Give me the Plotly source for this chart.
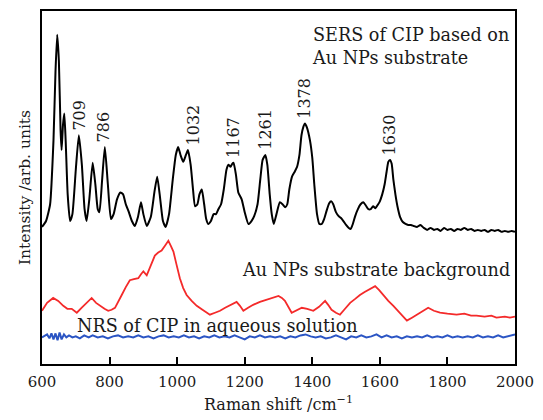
import plotly.graph_objects as go

# Raman shift (cm^-1) and intensity (arb. units) of the three spectra
sers_shift = [600, 612, 624, 634, 640, 645, 650, 655, 658, 662, 666, 670, 676, 683, 690, 700,
              709, 718, 726, 732, 740, 750, 758, 765, 770, 778, 786, 795, 804, 812, 822, 832,
              840, 848, 856, 866, 875, 884, 893, 900, 910, 922, 933, 941, 950, 958, 966, 976,
              987, 996, 1003, 1010, 1018, 1026, 1032, 1040, 1047, 1053, 1060, 1066, 1073, 1080,
              1086, 1092, 1100, 1108, 1115, 1122, 1130, 1138, 1146, 1152, 1158, 1163, 1167, 1174,
              1181, 1191, 1200, 1211, 1220, 1228, 1238, 1246, 1253, 1261, 1267, 1274, 1280, 1286,
              1294, 1304, 1312, 1320, 1326, 1332, 1340, 1348, 1355, 1362, 1368, 1374, 1378, 1384,
              1393, 1400, 1406, 1414, 1421, 1428, 1435, 1442, 1450, 1456, 1462, 1470, 1478, 1485,
              1492, 1500, 1508, 1514, 1520, 1527, 1535, 1543, 1551, 1558, 1566, 1573, 1580, 1587,
              1593, 1600, 1607, 1614, 1620, 1625, 1630, 1635, 1640, 1646, 1652, 1660, 1668, 1676,
              1684, 1692, 1700, 1710, 1720, 1730, 1740, 1750, 1760, 1770, 1780, 1790, 1800, 1810,
              1820, 1830, 1840, 1850, 1860, 1870, 1880, 1890, 1900, 1910, 1920, 1930, 1940, 1950,
              1960, 1970, 1980, 1990, 2000]
sers_int = [139, 145, 162, 227, 297, 334, 307, 237, 217, 242, 254, 227, 172, 145, 152, 197,
            232, 202, 157, 145, 167, 204, 182, 157, 154, 187, 220, 182, 147, 152, 167, 174,
            172, 162, 155, 145, 140, 149, 164, 152, 140, 149, 175, 190, 167, 145, 139, 152,
            187, 212, 220, 212, 205, 212, 217, 202, 177, 160, 162, 172, 177, 162,
            147, 142, 145, 152, 152, 157, 162, 177, 197, 202, 200, 203, 204, 192,
            174, 167, 154, 142, 145, 150, 162, 187, 207, 212, 202, 172, 152, 142,
            152, 164, 162, 159, 162, 177, 190, 195, 200, 212, 232, 241, 244, 240,
            227, 209, 182, 152, 142, 142, 147, 155, 163, 165, 162, 154, 150, 148,
            145, 141, 138, 137, 142, 150, 157, 162, 164, 161, 157, 157, 160, 158,
            161, 165, 172, 182, 195, 205, 207, 203, 187, 172, 160, 149, 144, 142,
            141, 141, 140, 139, 141, 138, 136, 138, 136, 137, 135, 138, 136, 137,
            135, 137, 136, 138, 136, 137, 135, 136, 135, 136, 134, 136, 135, 136,
            134, 135, 134, 135, 134]

bg_shift = [600, 615, 633, 648, 663, 675, 688, 703, 717, 732, 747, 760, 772, 785, 796, 806,
            816, 826, 836, 848, 860, 872, 885, 893, 900, 910, 922, 934, 944, 954, 964, 974,
            981, 989, 998, 1008, 1018, 1028, 1043, 1058, 1075, 1090, 1097, 1112, 1127, 1142,
            1157, 1176, 1186, 1196, 1210, 1225, 1245, 1265, 1285, 1300, 1310, 1319, 1339, 1355,
            1369, 1385, 1403, 1420, 1438, 1447, 1457, 1470, 1482, 1497, 1512, 1527, 1541, 1555,
            1566, 1578, 1586, 1598, 1610, 1625, 1640, 1655, 1668, 1680, 1695, 1709, 1725, 1743,
            1760, 1778, 1800, 1827, 1850, 1870, 1886, 1910, 1930, 1945, 1970, 1985, 2000]
bg_int = [54, 62, 67, 64, 59, 56, 56, 52, 57, 62, 67, 62, 59, 56, 54, 55,
          57, 63, 70, 78, 85, 86, 87, 91, 94, 90, 101, 110, 113, 115, 120, 125,
          120, 114, 101, 87, 77, 70, 64, 59, 55, 51, 50, 52, 54, 57,
          60, 63, 59, 54, 57, 60, 63, 65, 67, 69, 67, 64, 52, 55,
          57, 56, 54, 58, 64, 60, 55, 52, 50, 56, 62, 66, 70, 73,
          75, 78, 79, 75, 70, 64, 59, 53, 48, 44, 47, 50, 54, 57,
          54, 52, 51, 50, 51, 49, 49, 48, 49, 47, 48, 47, 48]

nrs_shift = [600, 608, 615, 622, 628, 634, 640, 646, 652, 658, 665, 672, 680, 690, 700, 712,
             725, 738, 750, 765, 780, 795, 810, 825, 840, 855, 870, 885, 900, 915, 930, 945,
             960, 975, 990, 1005, 1020, 1035, 1050, 1065, 1080, 1095, 1110, 1125, 1140, 1155,
             1170, 1185, 1200, 1215, 1230, 1245, 1260, 1275, 1290, 1305, 1320, 1335, 1350, 1365,
             1380, 1395, 1410, 1425, 1440, 1455, 1470, 1485, 1500, 1515, 1530, 1545, 1560, 1575,
             1590, 1605, 1620, 1635, 1650, 1665, 1680, 1695, 1710, 1725, 1740, 1755, 1770, 1785,
             1800, 1815, 1830, 1845, 1860, 1875, 1890, 1905, 1920, 1935, 1950, 1965, 1980, 2000]
nrs_int = [27, 29, 30, 26, 31, 25, 31, 24, 32, 25, 30, 27, 29, 27, 28, 26,
           29, 27, 29, 27, 28, 26, 28, 29, 27, 28, 27, 29, 27, 28, 26, 28,
           29, 27, 28, 27, 29, 27, 28, 26, 28, 27, 29, 27, 28, 27,
           29, 27, 25, 28, 27, 29, 27, 28, 27, 28, 26, 28, 27, 29,
           30, 28, 27, 28, 26, 27, 29, 27, 25, 28, 27, 29, 27, 28,
           30, 27, 29, 27, 28, 26, 28, 27, 28, 27, 29, 27, 28, 27,
           29, 27, 28, 27, 28, 27, 29, 27, 28, 27, 29, 27, 28, 30]

# Labelled SERS peaks (cm^-1)
peak_shift = [709, 786, 1032, 1167, 1261, 1378, 1630]
peak_xshift = [1, -1, 6, 0, 0, 0, -1]

x_ticks = [600, 800, 1000, 1200, 1400, 1600, 1800, 2000]

FONT = "DejaVu Serif"
TXT = "#1a1a1a"

fig = go.Figure()
fig.add_trace(go.Scatter(x=nrs_shift, y=nrs_int, mode="lines",
                         line=dict(color="#2b55c4", width=2)))
fig.add_trace(go.Scatter(x=bg_shift, y=bg_int, mode="lines",
                         line=dict(color="#f42a2a", width=1.8)))
fig.add_trace(go.Scatter(x=sers_shift, y=sers_int, mode="lines",
                         line=dict(color="#000000", width=2, shape="spline", smoothing=0.5)))

lookup = dict(zip(sers_shift, sers_int))
for p, dx in zip(peak_shift, peak_xshift):
    fig.add_annotation(x=p, y=lookup[p], text=str(p), showarrow=False, textangle=-90,
                       xanchor="center", yanchor="bottom", yshift=3, xshift=dx,
                       font=dict(family=FONT, size=16, color=TXT))

fig.add_annotation(x=1393, y=346, text="SERS of CIP based on<br>Au NPs substrate",
                   showarrow=False, xanchor="left", yanchor="top", align="left",
                   font=dict(family=FONT, size=17.6, color=TXT))
fig.add_annotation(x=1186, y=95, text="Au NPs substrate background", showarrow=False,
                   xanchor="left", yanchor="middle",
                   font=dict(family=FONT, size=17.6, color=TXT))
fig.add_annotation(x=698, y=39, text="NRS of CIP in aqueous solution", showarrow=False,
                   xanchor="left", yanchor="middle",
                   font=dict(family=FONT, size=17.6, color=TXT))

fig.update_layout(
    width=543, height=420,
    margin=dict(l=42, r=28, t=9, b=53),
    paper_bgcolor="white", plot_bgcolor="white",
    showlegend=False,
    font=dict(family=FONT, size=15, color=TXT),
)
fig.update_xaxes(range=[600, 2000], tickvals=x_ticks, ticks="inside", ticklen=7,
                 tickwidth=1.5, tickcolor="black", showline=True, linecolor="black",
                 linewidth=2, mirror=True, showgrid=False, zeroline=False,
                 ticklabelstandoff=3,
                 tickfont=dict(family=FONT, size=15, color=TXT),
                 title=dict(text="Raman shift /cm<sup>−1</sup>", standoff=9,
                            font=dict(family=FONT, size=16, color=TXT)))
fig.update_yaxes(range=[0, 358], showticklabels=False, ticks="", showline=True,
                 linecolor="black", linewidth=2, mirror=True, showgrid=False,
                 zeroline=False,
                 title=dict(text="Intensity /arb. units", standoff=6,
                            font=dict(family=FONT, size=15.5, color=TXT)))

fig.write_html("out.html")
